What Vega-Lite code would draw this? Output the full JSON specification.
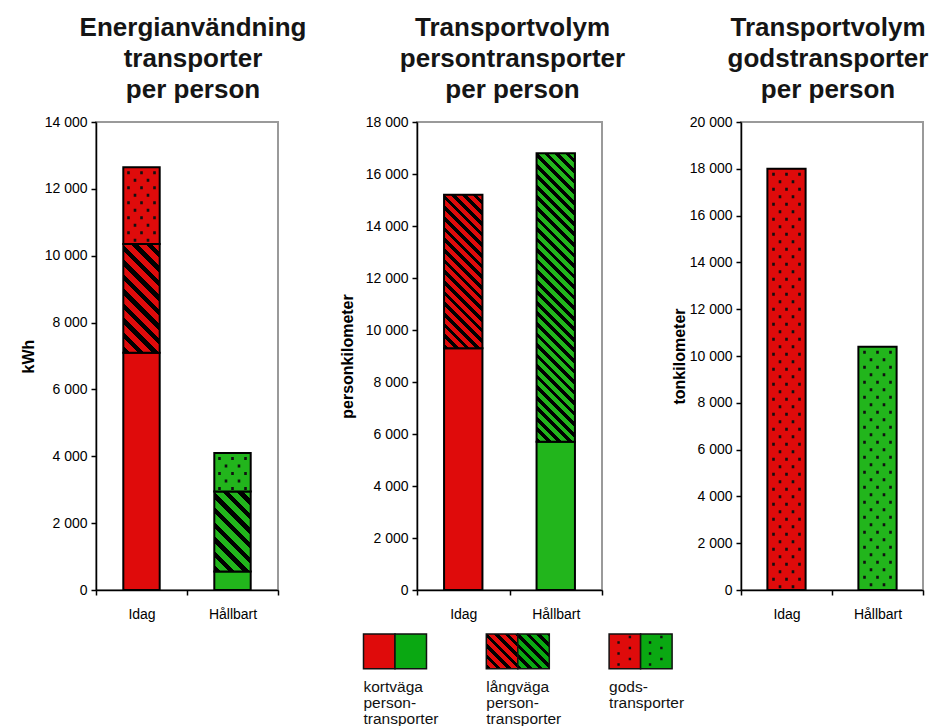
{
  "$schema": "https://vega.github.io/schema/vega-lite/v6.json",
  "background": "white",
  "padding": {"left": 19, "top": 14, "right": 0, "bottom": 0},
  "spacing": 139,
  "bounds": "flush",
  "config": {
    "font": "Liberation Sans",
    "view": {"stroke": "#9a9a9a", "strokeWidth": 2},
    "title": {"font": "Liberation Sans", "fontSize": 26, "fontWeight": "bold", "lineHeight": 31, "color": "#151515", "anchor": "middle", "offset": 12},
    "axis": {"domainColor": "#000", "domainWidth": 1.5, "tickColor": "#000", "tickWidth": 1.5, "tickSize": 5, "labelColor": "#000", "labelFontSize": 14, "labelFont": "Liberation Sans", "titleFont": "Liberation Sans", "titleFontSize": 16, "titleFontWeight": "bold", "titleColor": "#000", "grid": false},
    "axisX": {"tickBand": "extent", "labelPadding": 12, "labelAngle": 0},
    "axisY": {"labelPadding": 4}
  },
  "hconcat": [
    {
      "width": 182,
      "height": 468,
      "title": {"text": ["Energianvändning", "transporter", "per person"], "dx": 6},
      "data": {"values": [
        {"scen": "Idag", "typ": "kortväga", "ordning": 1, "varde": 7100},
        {"scen": "Idag", "typ": "långväga", "ordning": 2, "varde": 3250},
        {"scen": "Idag", "typ": "gods", "ordning": 3, "varde": 2300},
        {"scen": "Hållbart", "typ": "kortväga", "ordning": 1, "varde": 550},
        {"scen": "Hållbart", "typ": "långväga", "ordning": 2, "varde": 2400},
        {"scen": "Hållbart", "typ": "gods", "ordning": 3, "varde": 1150}
      ]},
      "transform": [{"stack": "varde", "groupby": ["scen"], "sort": [{"field": "ordning", "order": "ascending"}], "as": ["y0", "y1"]}],
      "encoding": {
        "x": {"field": "scen", "type": "nominal", "sort": ["Idag", "Hållbart"], "scale": {"paddingInner": 0, "paddingOuter": 0}, "axis": {"title": null}},
        "y": {"field": "y1", "type": "quantitative", "scale": {"domain": [0, 14000], "nice": false}, "axis": {"title": "kWh", "values": [0, 2000, 4000, 6000, 8000, 10000, 12000, 14000], "labelExpr": "replace(format(datum.value, ','), ',', ' ')", "titlePadding": 8}},
        "y2": {"field": "y0"}
      },
      "layer": [
        {
          "mark": {"type": "bar", "width": {"band": 0.4}, "stroke": "#000", "strokeWidth": 2},
          "encoding": {
            "fill": {
              "condition": [
                {"test": "datum.typ === 'långväga' && datum.scen === 'Idag'", "value": {"gradient": "linear", "x1": 0, "y1": 1, "x2": 0.402, "y2": -0.2, "stops": [
                  {"offset": 0, "color": "#000"}, {"offset": 0.045, "color": "#000"}, {"offset": 0.045, "color": "#df0b0b"}, {"offset": 0.1, "color": "#df0b0b"},
                  {"offset": 0.1, "color": "#000"}, {"offset": 0.145, "color": "#000"}, {"offset": 0.145, "color": "#df0b0b"}, {"offset": 0.2, "color": "#df0b0b"},
                  {"offset": 0.2, "color": "#000"}, {"offset": 0.245, "color": "#000"}, {"offset": 0.245, "color": "#df0b0b"}, {"offset": 0.3, "color": "#df0b0b"},
                  {"offset": 0.3, "color": "#000"}, {"offset": 0.345, "color": "#000"}, {"offset": 0.345, "color": "#df0b0b"}, {"offset": 0.4, "color": "#df0b0b"},
                  {"offset": 0.4, "color": "#000"}, {"offset": 0.445, "color": "#000"}, {"offset": 0.445, "color": "#df0b0b"}, {"offset": 0.5, "color": "#df0b0b"},
                  {"offset": 0.5, "color": "#000"}, {"offset": 0.545, "color": "#000"}, {"offset": 0.545, "color": "#df0b0b"}, {"offset": 0.6, "color": "#df0b0b"},
                  {"offset": 0.6, "color": "#000"}, {"offset": 0.645, "color": "#000"}, {"offset": 0.645, "color": "#df0b0b"}, {"offset": 0.7, "color": "#df0b0b"},
                  {"offset": 0.7, "color": "#000"}, {"offset": 0.745, "color": "#000"}, {"offset": 0.745, "color": "#df0b0b"}, {"offset": 0.8, "color": "#df0b0b"},
                  {"offset": 0.8, "color": "#000"}, {"offset": 0.845, "color": "#000"}, {"offset": 0.845, "color": "#df0b0b"}, {"offset": 0.9, "color": "#df0b0b"},
                  {"offset": 0.9, "color": "#000"}, {"offset": 0.945, "color": "#000"}, {"offset": 0.945, "color": "#df0b0b"}, {"offset": 1, "color": "#df0b0b"}
                ]}},
                {"test": "datum.typ === 'långväga' && datum.scen === 'Hållbart'", "value": {"gradient": "linear", "x1": 0, "y1": 1, "x2": 0.547, "y2": -0.206, "stops": [
                  {"offset": 0, "color": "#000"}, {"offset": 0.056, "color": "#000"}, {"offset": 0.056, "color": "#22b51c"}, {"offset": 0.125, "color": "#22b51c"},
                  {"offset": 0.125, "color": "#000"}, {"offset": 0.181, "color": "#000"}, {"offset": 0.181, "color": "#22b51c"}, {"offset": 0.25, "color": "#22b51c"},
                  {"offset": 0.25, "color": "#000"}, {"offset": 0.306, "color": "#000"}, {"offset": 0.306, "color": "#22b51c"}, {"offset": 0.375, "color": "#22b51c"},
                  {"offset": 0.375, "color": "#000"}, {"offset": 0.431, "color": "#000"}, {"offset": 0.431, "color": "#22b51c"}, {"offset": 0.5, "color": "#22b51c"},
                  {"offset": 0.5, "color": "#000"}, {"offset": 0.556, "color": "#000"}, {"offset": 0.556, "color": "#22b51c"}, {"offset": 0.625, "color": "#22b51c"},
                  {"offset": 0.625, "color": "#000"}, {"offset": 0.681, "color": "#000"}, {"offset": 0.681, "color": "#22b51c"}, {"offset": 0.75, "color": "#22b51c"},
                  {"offset": 0.75, "color": "#000"}, {"offset": 0.806, "color": "#000"}, {"offset": 0.806, "color": "#22b51c"}, {"offset": 0.875, "color": "#22b51c"},
                  {"offset": 0.875, "color": "#000"}, {"offset": 0.931, "color": "#000"}, {"offset": 0.931, "color": "#22b51c"}, {"offset": 1, "color": "#22b51c"}
                ]}},
                {"test": "datum.scen === 'Hållbart'", "value": "#22b51c"}
              ],
              "value": "#df0b0b"
            }
          }
        },
        {"transform": [{"filter": "datum.typ === 'gods'"}], "mark": {"type": "rule", "xOffset": -13, "strokeDash": [3, 12], "strokeDashOffset": 11, "strokeWidth": 2.6, "color": "#111"}, "encoding": {}},
        {"transform": [{"filter": "datum.typ === 'gods'"}], "mark": {"type": "rule", "xOffset": 0, "strokeDash": [3, 12], "strokeDashOffset": 11, "strokeWidth": 2.6, "color": "#111"}, "encoding": {}},
        {"transform": [{"filter": "datum.typ === 'gods'"}], "mark": {"type": "rule", "xOffset": 13, "strokeDash": [3, 12], "strokeDashOffset": 11, "strokeWidth": 2.6, "color": "#111"}, "encoding": {}},
        {"transform": [{"filter": "datum.typ === 'gods'"}], "mark": {"type": "rule", "xOffset": -6.5, "strokeDash": [3, 12], "strokeDashOffset": 3.5, "strokeWidth": 2.6, "color": "#111"}, "encoding": {}},
        {"transform": [{"filter": "datum.typ === 'gods'"}], "mark": {"type": "rule", "xOffset": 6.5, "strokeDash": [3, 12], "strokeDashOffset": 3.5, "strokeWidth": 2.6, "color": "#111"}, "encoding": {}}
      ]
    },
    {
      "width": 185,
      "height": 468,
      "title": {"text": ["Transportvolym", "persontransporter", "per person"], "dx": 3},
      "resolve": {"scale": {"x": "independent", "y": "independent"}},
      "layer": [
        {
          "data": {"values": [
            {"scen": "Idag", "typ": "kortväga", "ordning": 1, "varde": 9300},
            {"scen": "Idag", "typ": "långväga", "ordning": 2, "varde": 5900},
            {"scen": "Hållbart", "typ": "kortväga", "ordning": 1, "varde": 5700},
            {"scen": "Hållbart", "typ": "långväga", "ordning": 2, "varde": 11100}
          ]},
          "transform": [{"stack": "varde", "groupby": ["scen"], "sort": [{"field": "ordning", "order": "ascending"}], "as": ["y0", "y1"]}],
          "mark": {"type": "bar", "width": {"band": 0.415}, "stroke": "#000", "strokeWidth": 2},
          "encoding": {
            "x": {"field": "scen", "type": "nominal", "sort": ["Idag", "Hållbart"], "scale": {"paddingInner": 0, "paddingOuter": 0}, "axis": {"title": null}},
            "y": {"field": "y1", "type": "quantitative", "scale": {"domain": [0, 18000], "nice": false}, "axis": {"title": "personkilometer", "values": [0, 2000, 4000, 6000, 8000, 10000, 12000, 14000, 16000, 18000], "labelExpr": "replace(format(datum.value, ','), ',', ' ')", "titlePadding": 10}},
            "y2": {"field": "y0"},
            "fill": {
              "condition": [
                {"test": "datum.typ === 'långväga' && datum.scen === 'Idag'", "value": {"gradient": "linear", "x1": 0, "y1": 1, "x2": 0.295, "y2": -0.177, "stops": [
                  {"offset": 0, "color": "#000"}, {"offset": 0.025, "color": "#000"}, {"offset": 0.025, "color": "#df0b0b"}, {"offset": 0.0556, "color": "#df0b0b"},
                  {"offset": 0.0556, "color": "#000"}, {"offset": 0.0806, "color": "#000"}, {"offset": 0.0806, "color": "#df0b0b"}, {"offset": 0.1111, "color": "#df0b0b"},
                  {"offset": 0.1111, "color": "#000"}, {"offset": 0.1361, "color": "#000"}, {"offset": 0.1361, "color": "#df0b0b"}, {"offset": 0.1667, "color": "#df0b0b"},
                  {"offset": 0.1667, "color": "#000"}, {"offset": 0.1917, "color": "#000"}, {"offset": 0.1917, "color": "#df0b0b"}, {"offset": 0.2222, "color": "#df0b0b"},
                  {"offset": 0.2222, "color": "#000"}, {"offset": 0.2472, "color": "#000"}, {"offset": 0.2472, "color": "#df0b0b"}, {"offset": 0.2778, "color": "#df0b0b"},
                  {"offset": 0.2778, "color": "#000"}, {"offset": 0.3028, "color": "#000"}, {"offset": 0.3028, "color": "#df0b0b"}, {"offset": 0.3333, "color": "#df0b0b"},
                  {"offset": 0.3333, "color": "#000"}, {"offset": 0.3583, "color": "#000"}, {"offset": 0.3583, "color": "#df0b0b"}, {"offset": 0.3889, "color": "#df0b0b"},
                  {"offset": 0.3889, "color": "#000"}, {"offset": 0.4139, "color": "#000"}, {"offset": 0.4139, "color": "#df0b0b"}, {"offset": 0.4444, "color": "#df0b0b"},
                  {"offset": 0.4444, "color": "#000"}, {"offset": 0.4694, "color": "#000"}, {"offset": 0.4694, "color": "#df0b0b"}, {"offset": 0.5, "color": "#df0b0b"},
                  {"offset": 0.5, "color": "#000"}, {"offset": 0.525, "color": "#000"}, {"offset": 0.525, "color": "#df0b0b"}, {"offset": 0.5556, "color": "#df0b0b"},
                  {"offset": 0.5556, "color": "#000"}, {"offset": 0.5806, "color": "#000"}, {"offset": 0.5806, "color": "#df0b0b"}, {"offset": 0.6111, "color": "#df0b0b"},
                  {"offset": 0.6111, "color": "#000"}, {"offset": 0.6361, "color": "#000"}, {"offset": 0.6361, "color": "#df0b0b"}, {"offset": 0.6667, "color": "#df0b0b"},
                  {"offset": 0.6667, "color": "#000"}, {"offset": 0.6917, "color": "#000"}, {"offset": 0.6917, "color": "#df0b0b"}, {"offset": 0.7222, "color": "#df0b0b"},
                  {"offset": 0.7222, "color": "#000"}, {"offset": 0.7472, "color": "#000"}, {"offset": 0.7472, "color": "#df0b0b"}, {"offset": 0.7778, "color": "#df0b0b"},
                  {"offset": 0.7778, "color": "#000"}, {"offset": 0.8028, "color": "#000"}, {"offset": 0.8028, "color": "#df0b0b"}, {"offset": 0.8333, "color": "#df0b0b"},
                  {"offset": 0.8333, "color": "#000"}, {"offset": 0.8583, "color": "#000"}, {"offset": 0.8583, "color": "#df0b0b"}, {"offset": 0.8889, "color": "#df0b0b"},
                  {"offset": 0.8889, "color": "#000"}, {"offset": 0.9139, "color": "#000"}, {"offset": 0.9139, "color": "#df0b0b"}, {"offset": 0.9444, "color": "#df0b0b"},
                  {"offset": 0.9444, "color": "#000"}, {"offset": 0.9694, "color": "#000"}, {"offset": 0.9694, "color": "#df0b0b"}, {"offset": 1, "color": "#df0b0b"}
                ]}},
                {"test": "datum.typ === 'långväga' && datum.scen === 'Hållbart'", "value": {"gradient": "linear", "x1": 0, "y1": 1, "x2": 0.148, "y2": -0.113, "stops": [
                  {"offset": 0, "color": "#000"}, {"offset": 0.0145, "color": "#000"}, {"offset": 0.0145, "color": "#22b51c"}, {"offset": 0.0323, "color": "#22b51c"},
                  {"offset": 0.0323, "color": "#000"}, {"offset": 0.0468, "color": "#000"}, {"offset": 0.0468, "color": "#22b51c"}, {"offset": 0.0645, "color": "#22b51c"},
                  {"offset": 0.0645, "color": "#000"}, {"offset": 0.079, "color": "#000"}, {"offset": 0.079, "color": "#22b51c"}, {"offset": 0.0968, "color": "#22b51c"},
                  {"offset": 0.0968, "color": "#000"}, {"offset": 0.1113, "color": "#000"}, {"offset": 0.1113, "color": "#22b51c"}, {"offset": 0.129, "color": "#22b51c"},
                  {"offset": 0.129, "color": "#000"}, {"offset": 0.1435, "color": "#000"}, {"offset": 0.1435, "color": "#22b51c"}, {"offset": 0.1613, "color": "#22b51c"},
                  {"offset": 0.1613, "color": "#000"}, {"offset": 0.1758, "color": "#000"}, {"offset": 0.1758, "color": "#22b51c"}, {"offset": 0.1935, "color": "#22b51c"},
                  {"offset": 0.1935, "color": "#000"}, {"offset": 0.2081, "color": "#000"}, {"offset": 0.2081, "color": "#22b51c"}, {"offset": 0.2258, "color": "#22b51c"},
                  {"offset": 0.2258, "color": "#000"}, {"offset": 0.2403, "color": "#000"}, {"offset": 0.2403, "color": "#22b51c"}, {"offset": 0.2581, "color": "#22b51c"},
                  {"offset": 0.2581, "color": "#000"}, {"offset": 0.2726, "color": "#000"}, {"offset": 0.2726, "color": "#22b51c"}, {"offset": 0.2903, "color": "#22b51c"},
                  {"offset": 0.2903, "color": "#000"}, {"offset": 0.3048, "color": "#000"}, {"offset": 0.3048, "color": "#22b51c"}, {"offset": 0.3226, "color": "#22b51c"},
                  {"offset": 0.3226, "color": "#000"}, {"offset": 0.3371, "color": "#000"}, {"offset": 0.3371, "color": "#22b51c"}, {"offset": 0.3548, "color": "#22b51c"},
                  {"offset": 0.3548, "color": "#000"}, {"offset": 0.3694, "color": "#000"}, {"offset": 0.3694, "color": "#22b51c"}, {"offset": 0.3871, "color": "#22b51c"},
                  {"offset": 0.3871, "color": "#000"}, {"offset": 0.4016, "color": "#000"}, {"offset": 0.4016, "color": "#22b51c"}, {"offset": 0.4194, "color": "#22b51c"},
                  {"offset": 0.4194, "color": "#000"}, {"offset": 0.4339, "color": "#000"}, {"offset": 0.4339, "color": "#22b51c"}, {"offset": 0.4516, "color": "#22b51c"},
                  {"offset": 0.4516, "color": "#000"}, {"offset": 0.4661, "color": "#000"}, {"offset": 0.4661, "color": "#22b51c"}, {"offset": 0.4839, "color": "#22b51c"},
                  {"offset": 0.4839, "color": "#000"}, {"offset": 0.4984, "color": "#000"}, {"offset": 0.4984, "color": "#22b51c"}, {"offset": 0.5161, "color": "#22b51c"},
                  {"offset": 0.5161, "color": "#000"}, {"offset": 0.5306, "color": "#000"}, {"offset": 0.5306, "color": "#22b51c"}, {"offset": 0.5484, "color": "#22b51c"},
                  {"offset": 0.5484, "color": "#000"}, {"offset": 0.5629, "color": "#000"}, {"offset": 0.5629, "color": "#22b51c"}, {"offset": 0.5806, "color": "#22b51c"},
                  {"offset": 0.5806, "color": "#000"}, {"offset": 0.5952, "color": "#000"}, {"offset": 0.5952, "color": "#22b51c"}, {"offset": 0.6129, "color": "#22b51c"},
                  {"offset": 0.6129, "color": "#000"}, {"offset": 0.6274, "color": "#000"}, {"offset": 0.6274, "color": "#22b51c"}, {"offset": 0.6452, "color": "#22b51c"},
                  {"offset": 0.6452, "color": "#000"}, {"offset": 0.6597, "color": "#000"}, {"offset": 0.6597, "color": "#22b51c"}, {"offset": 0.6774, "color": "#22b51c"},
                  {"offset": 0.6774, "color": "#000"}, {"offset": 0.6919, "color": "#000"}, {"offset": 0.6919, "color": "#22b51c"}, {"offset": 0.7097, "color": "#22b51c"},
                  {"offset": 0.7097, "color": "#000"}, {"offset": 0.7242, "color": "#000"}, {"offset": 0.7242, "color": "#22b51c"}, {"offset": 0.7419, "color": "#22b51c"},
                  {"offset": 0.7419, "color": "#000"}, {"offset": 0.7565, "color": "#000"}, {"offset": 0.7565, "color": "#22b51c"}, {"offset": 0.7742, "color": "#22b51c"},
                  {"offset": 0.7742, "color": "#000"}, {"offset": 0.7887, "color": "#000"}, {"offset": 0.7887, "color": "#22b51c"}, {"offset": 0.8065, "color": "#22b51c"},
                  {"offset": 0.8065, "color": "#000"}, {"offset": 0.821, "color": "#000"}, {"offset": 0.821, "color": "#22b51c"}, {"offset": 0.8387, "color": "#22b51c"},
                  {"offset": 0.8387, "color": "#000"}, {"offset": 0.8532, "color": "#000"}, {"offset": 0.8532, "color": "#22b51c"}, {"offset": 0.871, "color": "#22b51c"},
                  {"offset": 0.871, "color": "#000"}, {"offset": 0.8855, "color": "#000"}, {"offset": 0.8855, "color": "#22b51c"}, {"offset": 0.9032, "color": "#22b51c"},
                  {"offset": 0.9032, "color": "#000"}, {"offset": 0.9177, "color": "#000"}, {"offset": 0.9177, "color": "#22b51c"}, {"offset": 0.9355, "color": "#22b51c"},
                  {"offset": 0.9355, "color": "#000"}, {"offset": 0.95, "color": "#000"}, {"offset": 0.95, "color": "#22b51c"}, {"offset": 0.9677, "color": "#22b51c"},
                  {"offset": 0.9677, "color": "#000"}, {"offset": 0.9823, "color": "#000"}, {"offset": 0.9823, "color": "#22b51c"}, {"offset": 1, "color": "#22b51c"}
                ]}},
                {"test": "datum.scen === 'Hållbart'", "value": "#22b51c"}
              ],
              "value": "#df0b0b"
            }
          }
        },
        {
          "data": {"values": [
            {"typ": "kortväga", "scen": "Idag"}, {"typ": "kortväga", "scen": "Hållbart"},
            {"typ": "långväga", "scen": "Idag"}, {"typ": "långväga", "scen": "Hållbart"},
            {"typ": "gods", "scen": "Idag"}, {"typ": "gods", "scen": "Hållbart"}
          ]},
          "mark": {"type": "bar", "stroke": "#111", "strokeWidth": 1.5},
          "encoding": {
            "x": {"field": "typ", "type": "nominal", "sort": ["kortväga", "långväga", "gods"], "scale": {"type": "band", "range": [-53.5, 255.1], "paddingInner": 0.487, "paddingOuter": 0}, "axis": null},
            "xOffset": {"field": "scen", "type": "nominal", "sort": ["Idag", "Hållbart"], "scale": {"paddingInner": 0, "paddingOuter": 0}},
            "y": {"datum": 0, "type": "quantitative", "scale": {"domain": [0, 1], "range": [546.7, 512]}, "axis": null},
            "y2": {"datum": 1},
            "fill": {
              "condition": [
                {"test": "datum.typ === 'långväga' && datum.scen === 'Idag'", "value": {"gradient": "linear", "x1": 0, "y1": 1, "x2": 0.95, "y2": -0.046, "stops": [
                  {"offset": 0, "color": "#000"}, {"offset": 0.0714, "color": "#000"}, {"offset": 0.0714, "color": "#df0b0b"}, {"offset": 0.1586, "color": "#df0b0b"},
                  {"offset": 0.1586, "color": "#000"}, {"offset": 0.23, "color": "#000"}, {"offset": 0.23, "color": "#df0b0b"}, {"offset": 0.3172, "color": "#df0b0b"},
                  {"offset": 0.3172, "color": "#000"}, {"offset": 0.3886, "color": "#000"}, {"offset": 0.3886, "color": "#df0b0b"}, {"offset": 0.4758, "color": "#df0b0b"},
                  {"offset": 0.4758, "color": "#000"}, {"offset": 0.5472, "color": "#000"}, {"offset": 0.5472, "color": "#df0b0b"}, {"offset": 0.6344, "color": "#df0b0b"},
                  {"offset": 0.6344, "color": "#000"}, {"offset": 0.7058, "color": "#000"}, {"offset": 0.7058, "color": "#df0b0b"}, {"offset": 0.793, "color": "#df0b0b"},
                  {"offset": 0.793, "color": "#000"}, {"offset": 0.8644, "color": "#000"}, {"offset": 0.8644, "color": "#df0b0b"}, {"offset": 0.9516, "color": "#df0b0b"},
                  {"offset": 0.9516, "color": "#000"}, {"offset": 1, "color": "#000"}
                ]}},
                {"test": "datum.typ === 'långväga' && datum.scen === 'Hållbart'", "value": {"gradient": "linear", "x1": 0, "y1": 1, "x2": 0.95, "y2": -0.046, "stops": [
                  {"offset": 0, "color": "#000"}, {"offset": 0.0714, "color": "#000"}, {"offset": 0.0714, "color": "#0aa812"}, {"offset": 0.1586, "color": "#0aa812"},
                  {"offset": 0.1586, "color": "#000"}, {"offset": 0.23, "color": "#000"}, {"offset": 0.23, "color": "#0aa812"}, {"offset": 0.3172, "color": "#0aa812"},
                  {"offset": 0.3172, "color": "#000"}, {"offset": 0.3886, "color": "#000"}, {"offset": 0.3886, "color": "#0aa812"}, {"offset": 0.4758, "color": "#0aa812"},
                  {"offset": 0.4758, "color": "#000"}, {"offset": 0.5472, "color": "#000"}, {"offset": 0.5472, "color": "#0aa812"}, {"offset": 0.6344, "color": "#0aa812"},
                  {"offset": 0.6344, "color": "#000"}, {"offset": 0.7058, "color": "#000"}, {"offset": 0.7058, "color": "#0aa812"}, {"offset": 0.793, "color": "#0aa812"},
                  {"offset": 0.793, "color": "#000"}, {"offset": 0.8644, "color": "#000"}, {"offset": 0.8644, "color": "#0aa812"}, {"offset": 0.9516, "color": "#0aa812"},
                  {"offset": 0.9516, "color": "#000"}, {"offset": 1, "color": "#000"}
                ]}},
                {"test": "datum.scen === 'Hållbart'", "value": "#0aa812"}
              ],
              "value": "#df0b0b"
            }
          }
        },
        {
          "data": {"values": [
            {"typ": "kortväga", "etikett": "kortväga\nperson-\ntransporter"},
            {"typ": "långväga", "etikett": "långväga\nperson-\ntransporter"},
            {"typ": "gods", "etikett": "gods-\ntransporter"}
          ]},
          "mark": {"type": "text", "align": "left", "baseline": "alphabetic", "dy": 23, "fontSize": 15.5, "lineHeight": 16, "lineBreak": "\n", "color": "#111", "font": "Liberation Sans"},
          "encoding": {
            "x": {"field": "typ", "type": "nominal", "sort": ["kortväga", "långväga", "gods"], "bandPosition": 0, "scale": {"type": "band", "range": [-53.5, 255.1], "paddingInner": 0.487, "paddingOuter": 0}, "axis": null},
            "y": {"datum": 0, "type": "quantitative", "scale": {"domain": [0, 1], "range": [546.7, 512]}, "axis": null},
            "text": {"field": "etikett", "type": "nominal"}
          }
        },
        {
          "data": {"values": [{"typ": "gods"}]},
          "mark": {"type": "rule", "strokeDash": [2.5, 8.5], "strokeDashOffset": 8, "strokeWidth": 2.4, "color": "#111"},
          "encoding": {
            "x": {"field": "typ", "type": "nominal", "bandPosition": 0.15, "scale": {"type": "band", "domain": ["kortväga", "långväga", "gods"], "range": [-53.5, 255.1], "paddingInner": 0.487, "paddingOuter": 0}, "axis": null},
            "y": {"datum": 0, "type": "quantitative", "scale": {"domain": [0, 1], "range": [546.7, 512]}, "axis": null},
            "y2": {"datum": 1}
          }
        },
        {
          "data": {"values": [{"typ": "gods"}]},
          "mark": {"type": "rule", "strokeDash": [2.5, 8.5], "strokeDashOffset": 2.5, "strokeWidth": 2.4, "color": "#111"},
          "encoding": {
            "x": {"field": "typ", "type": "nominal", "bandPosition": 0.33, "scale": {"type": "band", "domain": ["kortväga", "långväga", "gods"], "range": [-53.5, 255.1], "paddingInner": 0.487, "paddingOuter": 0}, "axis": null},
            "y": {"datum": 0, "type": "quantitative", "scale": {"domain": [0, 1], "range": [546.7, 512]}, "axis": null},
            "y2": {"datum": 1}
          }
        },
        {
          "data": {"values": [{"typ": "gods"}]},
          "mark": {"type": "rule", "strokeDash": [2.5, 8.5], "strokeDashOffset": 8, "strokeWidth": 2.4, "color": "#111"},
          "encoding": {
            "x": {"field": "typ", "type": "nominal", "bandPosition": 0.65, "scale": {"type": "band", "domain": ["kortväga", "långväga", "gods"], "range": [-53.5, 255.1], "paddingInner": 0.487, "paddingOuter": 0}, "axis": null},
            "y": {"datum": 0, "type": "quantitative", "scale": {"domain": [0, 1], "range": [546.7, 512]}, "axis": null},
            "y2": {"datum": 1}
          }
        },
        {
          "data": {"values": [{"typ": "gods"}]},
          "mark": {"type": "rule", "strokeDash": [2.5, 8.5], "strokeDashOffset": 2.5, "strokeWidth": 2.4, "color": "#111"},
          "encoding": {
            "x": {"field": "typ", "type": "nominal", "bandPosition": 0.83, "scale": {"type": "band", "domain": ["kortväga", "långväga", "gods"], "range": [-53.5, 255.1], "paddingInner": 0.487, "paddingOuter": 0}, "axis": null},
            "y": {"datum": 0, "type": "quantitative", "scale": {"domain": [0, 1], "range": [546.7, 512]}, "axis": null},
            "y2": {"datum": 1}
          }
        }
      ]
    },
    {
      "width": 182,
      "height": 468,
      "title": {"text": ["Transportvolym", "godstransporter", "per person"], "dx": -4},
      "data": {"values": [
        {"scen": "Idag", "typ": "gods", "ordning": 3, "varde": 18000},
        {"scen": "Hållbart", "typ": "gods", "ordning": 3, "varde": 10400}
      ]},
      "transform": [{"stack": "varde", "groupby": ["scen"], "sort": [{"field": "ordning", "order": "ascending"}], "as": ["y0", "y1"]}],
      "encoding": {
        "x": {"field": "scen", "type": "nominal", "sort": ["Idag", "Hållbart"], "scale": {"paddingInner": 0, "paddingOuter": 0}, "axis": {"title": null}},
        "y": {"field": "y1", "type": "quantitative", "scale": {"domain": [0, 20000], "nice": false}, "axis": {"title": "tonkilometer", "values": [0, 2000, 4000, 6000, 8000, 10000, 12000, 14000, 16000, 18000, 20000], "labelExpr": "replace(format(datum.value, ','), ',', ' ')", "titlePadding": 2}},
        "y2": {"field": "y0"}
      },
      "layer": [
        {
          "mark": {"type": "bar", "width": {"band": 0.42}, "stroke": "#000", "strokeWidth": 2},
          "encoding": {
            "fill": {"condition": [{"test": "datum.scen === 'Hållbart'", "value": "#22b51c"}], "value": "#df0b0b"}
          }
        },
        {"mark": {"type": "rule", "xOffset": -13, "strokeDash": [3, 12], "strokeDashOffset": 11, "strokeWidth": 2.6, "color": "#111"}, "encoding": {}},
        {"mark": {"type": "rule", "xOffset": 0, "strokeDash": [3, 12], "strokeDashOffset": 11, "strokeWidth": 2.6, "color": "#111"}, "encoding": {}},
        {"mark": {"type": "rule", "xOffset": 13, "strokeDash": [3, 12], "strokeDashOffset": 11, "strokeWidth": 2.6, "color": "#111"}, "encoding": {}},
        {"mark": {"type": "rule", "xOffset": -6.5, "strokeDash": [3, 12], "strokeDashOffset": 3.5, "strokeWidth": 2.6, "color": "#111"}, "encoding": {}},
        {"mark": {"type": "rule", "xOffset": 6.5, "strokeDash": [3, 12], "strokeDashOffset": 3.5, "strokeWidth": 2.6, "color": "#111"}, "encoding": {}}
      ]
    }
  ]
}
